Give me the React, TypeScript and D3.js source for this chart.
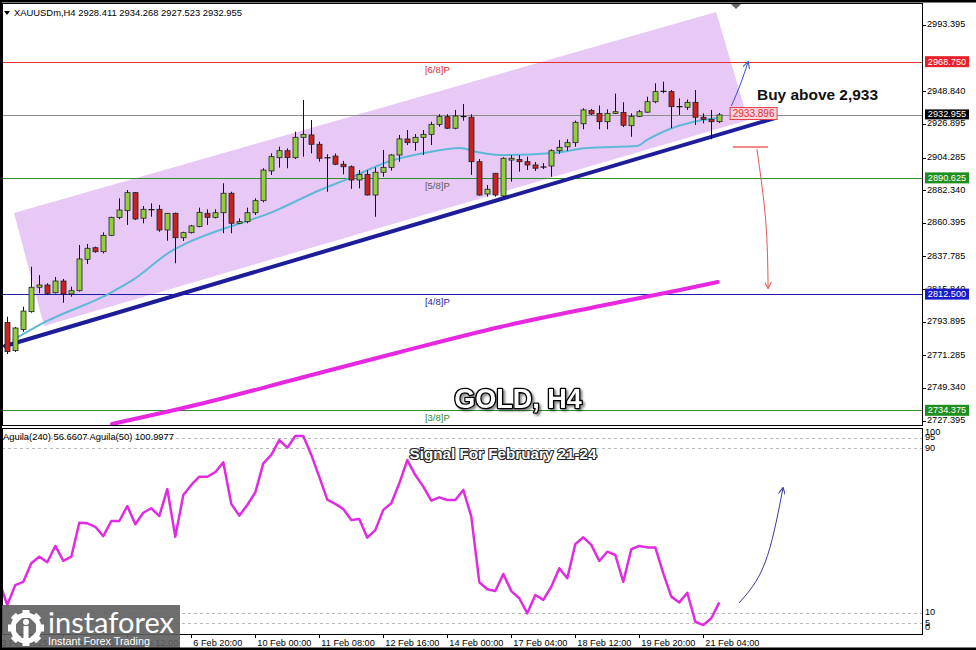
import React from 'react';
import * as d3 from 'd3';

// ---------- DATA ----------
const opens = [
  2793.5, 2774.5, 2788.8, 2800.7, 2817.1, 2818.6, 2813.4, 2821.3, 2812.6, 2814.8,
  2835.9, 2843.7, 2841.0, 2852.0, 2864.1, 2868.6, 2880.7, 2863.5, 2869.0, 2869.5,
  2855.6, 2866.8, 2850.4, 2853.8, 2858.0, 2866.8, 2864.1, 2867.2, 2880.3, 2860.1,
  2861.2, 2867.2, 2875.3, 2895.3, 2904.2, 2908.9, 2904.2, 2917.9, 2919.5, 2913.2,
  2903.8, 2905.3, 2899.8, 2898.1, 2889.2, 2893.0, 2879.1, 2894.4, 2897.7, 2906.0,
  2916.8, 2914.5, 2917.9, 2919.9, 2926.6, 2931.8, 2924.0, 2932.2, 2931.4, 2901.5,
  2879.8, 2893.7, 2878.5, 2902.6, 2903.0, 2901.5, 2899.3, 2897.6, 2898.6, 2908.9,
  2911.5, 2914.3, 2927.0, 2936.0, 2934.0, 2928.4, 2934.0, 2934.6, 2925.7, 2932.0,
  2934.8, 2941.8, 2949.2, 2948.6, 2938.9, 2938.1, 2941.4, 2931.4, 2930.0, 2928.411,
];
const highs = [
  2797.3, 2790.4, 2804.0, 2830.9, 2825.3, 2819.8, 2824.0, 2822.7, 2817.5, 2845.5,
  2846.2, 2844.4, 2854.0, 2864.5, 2876.9, 2882.5, 2881.0, 2871.7, 2873.5, 2872.4,
  2867.0, 2867.3, 2854.4, 2859.0, 2870.6, 2869.5, 2869.5, 2887.0, 2881.3, 2863.4,
  2870.6, 2876.9, 2897.1, 2907.1, 2911.6, 2910.5, 2921.7, 2943.0, 2929.5, 2915.0,
  2906.5, 2907.0, 2902.0, 2899.0, 2895.9, 2895.9, 2897.7, 2909.4, 2906.7, 2919.5,
  2922.8, 2920.1, 2922.8, 2928.4, 2933.4, 2933.4, 2936.3, 2940.3, 2933.4, 2903.3,
  2885.8, 2893.7, 2904.5, 2906.0, 2906.0, 2904.9, 2901.3, 2900.6, 2909.8, 2916.1,
  2916.6, 2929.1, 2937.4, 2937.0, 2939.3, 2936.7, 2947.3, 2941.5, 2934.0, 2936.3,
  2945.2, 2954.2, 2955.3, 2949.7, 2944.1, 2943.3, 2949.7, 2934.0, 2936.3, 2934.268,
];
const lows = [
  2772.2, 2773.6, 2787.2, 2800.0, 2813.0, 2811.9, 2812.9, 2806.7, 2810.8, 2814.2,
  2832.7, 2840.3, 2839.9, 2851.5, 2862.8, 2859.0, 2862.3, 2860.1, 2864.5, 2854.4,
  2848.4, 2833.2, 2848.2, 2853.2, 2857.4, 2859.0, 2863.4, 2853.4, 2853.4, 2859.6,
  2860.1, 2865.7, 2874.2, 2892.6, 2897.5, 2897.1, 2903.3, 2904.9, 2907.1, 2901.5,
  2881.3, 2899.2, 2893.0, 2883.2, 2883.6, 2878.8, 2864.5, 2891.4, 2895.5, 2901.5,
  2912.7, 2908.9, 2906.0, 2912.7, 2925.0, 2923.5, 2923.3, 2929.1, 2892.6, 2878.8,
  2878.0, 2878.0, 2877.8, 2888.1, 2894.8, 2895.9, 2895.3, 2896.6, 2891.4, 2906.7,
  2908.9, 2911.6, 2923.3, 2932.9, 2923.3, 2923.3, 2933.6, 2924.8, 2918.3, 2931.5,
  2934.4, 2940.8, 2947.5, 2924.0, 2932.9, 2936.3, 2926.2, 2927.3, 2916.6, 2927.523,
];
const closes = [
  2773.8, 2789.7, 2801.1, 2817.1, 2818.6, 2813.0, 2821.3, 2812.6, 2814.8, 2836.1,
  2843.3, 2841.0, 2852.0, 2864.1, 2869.0, 2880.7, 2863.0, 2869.5, 2869.5, 2855.6,
  2866.8, 2850.4, 2853.8, 2858.3, 2867.5, 2864.1, 2867.2, 2880.3, 2860.1, 2861.2,
  2867.2, 2875.3, 2895.9, 2904.9, 2908.9, 2904.2, 2917.9, 2919.9, 2913.2, 2903.8,
  2904.5, 2899.8, 2898.1, 2889.2, 2893.0, 2879.1, 2894.4, 2897.7, 2906.0, 2916.8,
  2914.3, 2917.9, 2919.9, 2926.6, 2931.8, 2924.0, 2932.2, 2931.5, 2901.5, 2879.1,
  2883.0, 2879.1, 2903.8, 2903.8, 2901.5, 2899.3, 2897.1, 2898.2, 2908.9, 2911.2,
  2914.3, 2928.0, 2936.3, 2933.6, 2928.4, 2934.0, 2935.1, 2926.0, 2932.0, 2935.1,
  2941.8, 2948.6, 2948.4, 2938.5, 2938.1, 2941.4, 2931.4, 2930.0, 2928.4, 2932.955,
];

// fast moving average (cyan), read at bar positions
const maIdx = [0.7, 4.5, 12.85, 15.7, 20.7, 22.5, 33.7, 39.1, 42.8, 47.5, 52.8, 56.6, 58.7, 61.6, 68.2, 72.5, 78.7, 79.96, 82.8, 85.7, 88.7];
const maVal = [2781.6, 2793.1, 2813.2, 2822.0, 2842.1, 2846.9, 2869.0, 2882.5, 2890.5, 2901.3, 2908.0, 2910.7, 2908.0, 2906.0, 2907.4, 2910.7, 2912.1, 2916.1, 2923.5, 2928.2, 2930.9];

// slow moving average (magenta)
const slowIdx = [13.1, 24.1, 36.6, 49.1, 61.6, 74.1, 84.1, 88.8];
const slowVal = [2725.2, 2738.6, 2756.1, 2773.6, 2790.4, 2804.5, 2815.3, 2820.6];

// Aguila oscillator, bars -1 .. 89
const aguila = [
  25.1, 13.8, 23.5, 25.1, 34.1, 37.3, 34.6, 42.5, 35.3, 37.3,
  53.8, 53.5, 51.8, 47.3, 54.6, 54.6, 61.9, 53.0, 58.6, 60.8,
  57.0, 70.1, 47.0, 67.2, 72.1, 76.1, 76.1, 78.3, 83.1, 62.9,
  57.2, 62.4, 68.5, 82.6, 86.7, 93.9, 90.2, 95.9, 95.9, 86.7,
  76.0, 65.0, 62.9, 60.4, 55.1, 55.6, 46.5, 50.2, 60.0, 63.2,
  72.9, 84.2, 76.9, 71.3, 64.5, 66.1, 64.8, 64.8, 69.7, 56.7,
  24.9, 21.5, 20.6, 28.9, 20.6, 17.1, 9.8, 18.7, 16.3, 22.7,
  31.7, 26.8, 43.4, 46.7, 43.0, 35.2, 39.7, 38.1, 25.1, 40.9,
  42.5, 41.8, 41.8, 29.2, 17.9, 15.1, 19.8, 5.7, 4.1, 7.4,
  15.1,
];

const priceTicks = [2993.395, 2948.840, 2926.895, 2904.285, 2882.340, 2860.395, 2837.785, 2815.840, 2793.895, 2771.285, 2749.340, 2727.395];
const levelPrices = [2968.750, 2890.625, 2812.500, 2734.375];
const levelNames = ['[6/8]P', '[5/8]P', '[4/8]P', '[3/8]P'];
const lastPrice = 2932.955;
const buyLevel = 2933.896;

const channelIdx = [0.84, 88.6, 92.6, 4.59];
const channelVal = [2867.0, 3002.1, 2929.5, 2791.1];
const trendIdx = [-0.29, 95.96];
const trendVal = [2777.6, 2930.9];

const upArrowIdx = [90.5, 91.6, 92.6];
const upArrowVal = [2938.9, 2953.0, 2968.5];
const downBarIdx = [90.7, 95.1];
const downBarVal = [2911.4, 2911.4];
const downArrowIdx = [93.7, 94.8, 95.1];
const downArrowVal = [2910.0, 2862.0, 2816.6];
const oscArrowIdx = [91.46, 94.7, 96.96];
const oscArrowVal = [14.8, 34.2, 70.6];

const dateTickIdx = [-1, 7, 15, 23, 31, 39, 47, 55, 63, 71, 79, 87];
const dateLabels = ['3 Feb 2025', '4 Feb 04:00', '5 Feb 12:00', '6 Feb 20:00', '10 Feb 00:00', '11 Feb 08:00', '12 Feb 16:00', '14 Feb 00:00', '17 Feb 04:00', '18 Feb 12:00', '19 Feb 20:00', '21 Feb 04:00'];
const aguilaTicks = [100, 95, 90, 10, 5, 0];
const aguilaDashed = [95, 90, 10, 5];

// ---------- STYLE ----------
const FONT = '"Liberation Sans", Arial, sans-serif';
const levelColors = ['#e3302c', '#2f8f2f', '#1c1ca8', '#2f8f2f'];
const levelTextColors = ['#d83030', '#606060', '#1c1ca8', '#2f8f2f'];
const levelBoxColors = ['#e8202a', '#1f8f1f', '#1a1ac8', '#1f8f1f'];
const UP = '#93cf3c';
const DOWN = '#c9221f';

const L = 2, R = 922, MT = 3, MB = 425, IT = 428, IB = 634;

export default function App() {
  const x = d3.scaleLinear().domain([0, 89]).range([7.3, 719.3]);
  const y = d3.scaleLinear().domain([2727.395, 2993.395]).range([420.7, 25]);
  const yi = d3.scaleLinear().domain([0, 100]).range([633.5, 427.5]);

  const pl = () => d3.line<[number, number]>().x(d => x(d[0])).y(d => y(d[1]));
  const zip = (a: number[], b: number[]) => a.map((v, k) => [v, b[k]] as [number, number]);
  const maPath = pl().curve(d3.curveMonotoneX)(zip(maIdx, maVal)) || '';
  const slowPath = pl().curve(d3.curveMonotoneX)(zip(slowIdx, slowVal)) || '';
  const chanPath = pl()(zip(channelIdx, channelVal)) + 'Z';
  const trendPath = pl()(zip(trendIdx, trendVal)) || '';
  const upArrow = pl().curve(d3.curveNatural)(zip(upArrowIdx, upArrowVal)) || '';
  const downBar = pl()(zip(downBarIdx, downBarVal)) || '';
  const downArrow = pl().curve(d3.curveNatural)(zip(downArrowIdx, downArrowVal)) || '';
  const oscPath = d3.line<number>().x((_, k) => x(k - 1)).y(d => yi(d))(aguila) || '';
  const oscArrow = d3.line<[number, number]>().x(d => x(d[0])).y(d => yi(d[1])).curve(d3.curveNatural)(zip(oscArrowIdx, oscArrowVal)) || '';

  const candles = opens.map((o, i) => ({ i, o, h: highs[i], l: lows[i], c: closes[i] }));
  const gearTeeth = d3.range(8).map(k => k * 45);

  return (
    <svg width={976} height={650} style={{ position: 'absolute', left: 0, top: 0, background: '#fff' }} fontFamily={FONT}>
      <defs>
        <clipPath id="mainClip"><rect x={L} y={MT} width={R - L} height={MB - MT} /></clipPath>
        <clipPath id="indClip"><rect x={L} y={IT} width={R - L} height={IB - IT} /></clipPath>
        <filter id="shadow" x="-10%" y="-20%" width="130%" height="160%">
          <feDropShadow dx="2" dy="2" stdDeviation="1.2" floodColor="#000" floodOpacity="0.45" />
        </filter>
        <marker id="arrBlue" viewBox="0 0 10 10" refX="9" refY="5" markerWidth="7" markerHeight="7" orient="auto">
          <path d="M0,0 L10,5 L0,10" fill="none" stroke="#3a4fc8" strokeWidth="1.5" />
        </marker>
        <marker id="arrRed" viewBox="0 0 10 10" refX="9" refY="5" markerWidth="7" markerHeight="7" orient="auto">
          <path d="M0,0 L10,5 L0,10" fill="none" stroke="#e05a5a" strokeWidth="1.5" />
        </marker>
        <marker id="arrNavy" viewBox="0 0 10 10" refX="9" refY="5" markerWidth="7" markerHeight="7" orient="auto">
          <path d="M0,0 L10,5 L0,10" fill="none" stroke="#3a3aa0" strokeWidth="1.5" />
        </marker>
      </defs>
      <rect x={0} y={0} width={976} height={650} fill="#fff" />

      {/* ---------- MAIN PANEL ---------- */}
      <g clipPath="url(#mainClip)">
        <path d={chanPath} fill="#e8c9f6" />
        {levelPrices.map((p, k) => (
          <line key={'lv' + k} x1={L} x2={R} y1={Math.round(y(p)) + 0.5} y2={Math.round(y(p)) + 0.5} stroke={levelColors[k]} strokeWidth={1} />
        ))}
        <line x1={L} x2={R} y1={Math.round(y(lastPrice)) + 0.5} y2={Math.round(y(lastPrice)) + 0.5} stroke="#8c8c8c" strokeWidth={1} />
        {levelPrices.map((p, k) => (
          <text key={'lt' + k} x={x(52.2)} y={y(p) + 11} fontSize={9.5} fill={levelTextColors[k]}>{levelNames[k]}</text>
        ))}
        <path d={slowPath} fill="none" stroke="#e629e0" strokeWidth={4} strokeLinecap="round" />
        <path d={maPath} fill="none" stroke="#5fb8d8" strokeWidth={2} />
        <path d={trendPath} fill="none" stroke="#1d1d9a" strokeWidth={4} strokeLinecap="round" />
        {candles.map(d => {
          const cx = Math.round(x(d.i)) + 0.5;
          const yo = y(d.o), yc = y(d.c);
          const top = Math.min(yo, yc), bot = Math.max(yo, yc);
          const up = d.c >= d.o;
          return (
            <g key={'c' + d.i}>
              <line x1={cx} x2={cx} y1={y(d.h)} y2={y(d.l)} stroke="#111" strokeWidth={1} />
              {bot - top < 1.6 ? (
                <line x1={cx - 3} x2={cx + 3} y1={(top + bot) / 2} y2={(top + bot) / 2} stroke="#111" strokeWidth={1.2} />
              ) : (
                <rect x={cx - 2.5} y={top} width={5} height={bot - top} fill={up ? UP : DOWN} stroke="#222" strokeWidth={0.8} />
              )}
            </g>
          );
        })}
        {/* annotations */}
        <path d={upArrow} fill="none" stroke="#3a4fc8" strokeWidth={1} markerEnd="url(#arrBlue)" />
        <path d={downBar} fill="none" stroke="#f28a8a" strokeWidth={2} />
        <path d={downArrow} fill="none" stroke="#e05a5a" strokeWidth={1} markerEnd="url(#arrRed)" />
        <g>
          <rect x={x(90.35)} y={y(buyLevel) - 6} width={47} height={12} fill="#fcd6dc" stroke="#e0404a" strokeWidth={1} />
          <text x={x(90.35) + 23.5} y={y(buyLevel) + 0.5} fontSize={10} fill="#e02a35" textAnchor="middle" dominantBaseline="middle">{buyLevel.toFixed(3)}</text>
        </g>
        <text x={757} y={100} fontSize={14.5} fontWeight="bold" fill="#111" textLength={121} lengthAdjust="spacingAndGlyphs">Buy above 2,933</text>
        <text x={518} y={408} fontSize={27} fontWeight="bold" fill="#fff" stroke="#000" strokeWidth={2.6} paintOrder="stroke" textAnchor="middle" strokeLinejoin="round" filter="url(#shadow)">GOLD, H4</text>
      </g>
      <path d="M731,4 L741,4 L736,9 Z" fill="#666" />

      {/* main frame */}
      <rect x={L + 0.5} y={MT + 0.5} width={R - L} height={MB - MT} fill="none" stroke="#000" strokeWidth={1} />

      {/* price axis */}
      {priceTicks.map((p, k) => (
        <g key={'pt' + k}>
          <line x1={R} x2={R + 4} y1={Math.round(y(p)) + 0.5} y2={Math.round(y(p)) + 0.5} stroke="#000" />
          <text x={927} y={y(p)} fontSize={9.2} fill="#000" dominantBaseline="middle">{p.toFixed(3)}</text>
        </g>
      ))}
      {levelPrices.map((p, k) => (
        <g key={'lb' + k}>
          <rect x={925} y={y(p) - 5.5} width={44} height={11} fill={levelBoxColors[k]} />
          <text x={947} y={y(p) + 0.5} fontSize={9.2} fill="#fff" textAnchor="middle" dominantBaseline="middle">{p.toFixed(3)}</text>
        </g>
      ))}
      <rect x={925} y={y(lastPrice) - 5.5} width={44} height={10} fill="#000" />
      <text x={947} y={y(lastPrice)} fontSize={9.2} fill="#fff" textAnchor="middle" dominantBaseline="middle">{lastPrice.toFixed(3)}</text>

      {/* header */}
      <path d="M4,11 L10,11 L7,15 Z" fill="#000" />
      <text x={14} y={16} fontSize={9.3} fill="#000" textLength={228} lengthAdjust="spacingAndGlyphs">XAUUSDm,H4  2928.411 2934.268 2927.523 2932.955</text>

      {/* ---------- INDICATOR PANEL ---------- */}
      <g clipPath="url(#indClip)">
        {aguilaDashed.map(v => (
          <line key={'dl' + v} x1={L} x2={R} y1={Math.round(yi(v)) + 0.5} y2={Math.round(yi(v)) + 0.5} stroke="#b8b8b8" strokeDasharray="3,3" strokeWidth={1} />
        ))}
        <path d={oscPath} fill="none" stroke="#e02ce0" strokeWidth={2.5} strokeLinejoin="round" />
        <path d={oscArrow} fill="none" stroke="#3a3aa0" strokeWidth={1} markerEnd="url(#arrNavy)" />
        <text x={503} y={459} fontSize={15} fontWeight="bold" fill="#fff" stroke="#222" strokeWidth={2.2} paintOrder="stroke" textAnchor="middle" strokeLinejoin="round" textLength={187} lengthAdjust="spacingAndGlyphs">Signal For  February 21-24</text>
      </g>
      <rect x={L + 0.5} y={IT + 0.5} width={R - L} height={IB - IT} fill="none" stroke="#000" strokeWidth={1} />
      <text x={3} y={440} fontSize={9.3} fill="#000" textLength={171} lengthAdjust="spacingAndGlyphs">Aguila(240) 56.6607  Aguila(50) 100.9977</text>
      {aguilaTicks.map(v => (
        <text key={'at' + v} x={925} y={Math.min(Math.max(yi(v), 433), 628)} fontSize={9.2} fill="#000" dominantBaseline="middle">{v}</text>
      ))}

      {/* time axis */}
      {dateTickIdx.map((t, k) => (
        <g key={'dt' + k}>
          <line x1={Math.round(x(t)) + 0.5} x2={Math.round(x(t)) + 0.5} y1={IB} y2={IB + 4} stroke="#000" />
          <text x={x(t) + 2} y={646} fontSize={9.2} fill="#000">{dateLabels[k]}</text>
        </g>
      ))}

      {/* logo */}
      <g>
        <rect x={0} y={605} width={180} height={45} fill="#5e5e5e" opacity={0.9} />
        <g transform="translate(26,628)" fill="#fff">
          {gearTeeth.map(a => (
            <rect key={'g' + a} x={-3.5} y={-18} width={7} height={8} transform={`rotate(${a})`} />
          ))}
          <circle r={13} fill="none" stroke="#fff" strokeWidth={5} />
          <circle cx={0} cy={-6} r={3} />
          <rect x={-2.5} y={-2} width={5} height={14} />
        </g>
        <text x={48} y={633} fontSize={29} fill="#fff" fontFamily="Lato, 'Open Sans', sans-serif" textLength={126} lengthAdjust="spacingAndGlyphs">instaforex</text>
        <text x={48} y={645} fontSize={11} fill="#fff" textLength={102} lengthAdjust="spacingAndGlyphs">Instant Forex Trading</text>
      </g>

      {/* outer black edges */}
      <rect x={0} y={0} width={976} height={2.5} fill="#000" />
      <rect x={0} y={0} width={2} height={650} fill="#000" />
      <rect x={0} y={647.5} width={976} height={2.5} fill="#000" />
    </svg>
  );
}
